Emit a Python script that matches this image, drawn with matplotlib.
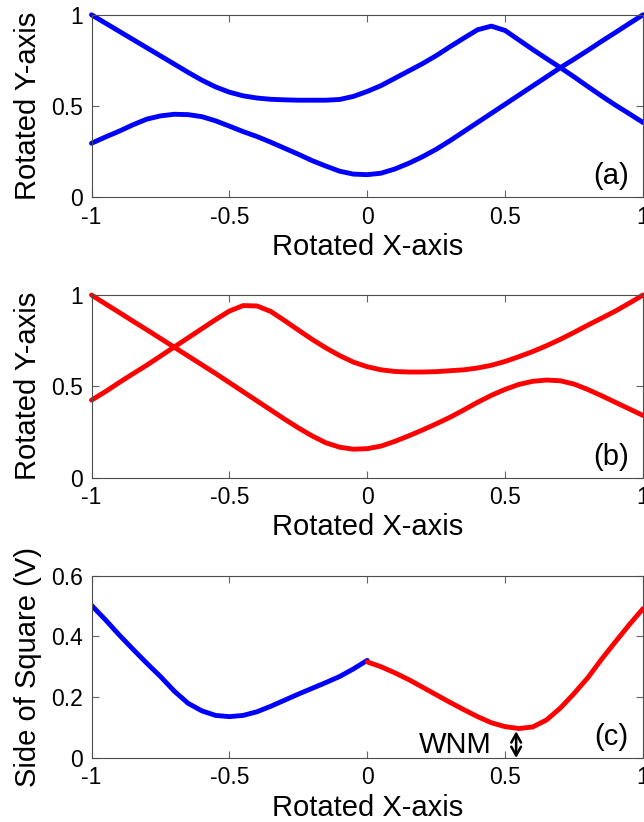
import matplotlib
matplotlib.use("Agg")
import matplotlib.pyplot as plt


# ----------------------------------------
# DATA
# ----------------------------------------

x_ab = [
    -1.0, -0.95, -0.9, -0.85, -0.8, -0.75, -0.7, -0.65, -0.6, -0.55, -0.5,
    -0.45, -0.4, -0.35, -0.3, -0.25, -0.2, -0.15, -0.1, -0.05, 0.0,
    0.05, 0.1, 0.15, 0.2, 0.25, 0.3, 0.35, 0.4, 0.45, 0.5,
    0.55, 0.6, 0.65, 0.7, 0.75, 0.8, 0.85, 0.9, 0.95, 1.0,
]

# panel (a), blue
a_upper = [
    1.0, 0.955, 0.91, 0.865, 0.82, 0.775, 0.73, 0.685, 0.642, 0.605, 0.576,
    0.556, 0.544, 0.537, 0.534, 0.532, 0.532, 0.532, 0.536, 0.553, 0.58,
    0.612, 0.652, 0.692, 0.732, 0.776, 0.825, 0.872, 0.918, 0.938, 0.914,
    0.862, 0.81, 0.76, 0.711, 0.66, 0.607, 0.555, 0.505, 0.458, 0.41,
]
a_lower = [
    0.296, 0.33, 0.362, 0.397, 0.428, 0.446, 0.455, 0.453, 0.442, 0.419, 0.39,
    0.36, 0.333, 0.302, 0.269, 0.236, 0.201, 0.171, 0.143, 0.127, 0.124,
    0.132, 0.155, 0.186, 0.222, 0.263, 0.31, 0.36, 0.41, 0.46, 0.51,
    0.56, 0.61, 0.66, 0.71, 0.757, 0.805, 0.855, 0.903, 0.952, 1.0,
]

# panel (b), red
b_first = [
    1.0, 0.952, 0.905, 0.857, 0.81, 0.762, 0.714, 0.666, 0.618, 0.57, 0.52,
    0.47, 0.42, 0.37, 0.32, 0.272, 0.228, 0.19, 0.166, 0.155, 0.158,
    0.172, 0.198, 0.228, 0.26, 0.294, 0.33, 0.37, 0.412, 0.45, 0.483,
    0.51, 0.527, 0.534, 0.53, 0.512, 0.482, 0.448, 0.412, 0.376, 0.34,
]
b_second = [
    0.424, 0.47, 0.52, 0.568, 0.615, 0.665, 0.715, 0.765, 0.815, 0.865, 0.912,
    0.942, 0.94, 0.91, 0.86, 0.808, 0.757, 0.71, 0.668, 0.632, 0.607,
    0.59, 0.581, 0.578, 0.578, 0.58, 0.585, 0.59, 0.6, 0.615, 0.636,
    0.662, 0.69, 0.722, 0.757, 0.795, 0.835, 0.873, 0.912, 0.955, 1.0,
]

# panel (c)
x_left = [
    -1.0, -0.95, -0.9, -0.85, -0.8, -0.75, -0.7, -0.65, -0.6, -0.55, -0.5,
    -0.45, -0.4, -0.35, -0.3, -0.25, -0.2, -0.15, -0.1, -0.05, 0.0,
]
c_left = [
    0.502, 0.455, 0.405, 0.358, 0.312, 0.268, 0.22, 0.18, 0.155, 0.14, 0.136,
    0.14, 0.152, 0.17, 0.19, 0.21, 0.229, 0.248, 0.268, 0.293, 0.321,
]
x_right = [
    0.0, 0.05, 0.1, 0.15, 0.2, 0.25, 0.3, 0.35, 0.4, 0.45, 0.5,
    0.55, 0.6, 0.65, 0.7, 0.75, 0.8, 0.85, 0.9, 0.95, 1.0,
]
c_right = [
    0.316, 0.3, 0.28, 0.258, 0.233, 0.208, 0.183, 0.159, 0.136, 0.116, 0.103,
    0.097, 0.102, 0.125, 0.164, 0.212, 0.264, 0.325, 0.382, 0.438, 0.491,
]

x_ticks = [-1, -0.5, 0, 0.5, 1]
x_tick_labels = ["-1", "-0.5", "0", "0.5", "1"]
ab_ticks = [0, 0.5, 1]
ab_tick_labels = ["0", "0.5", "1"]
c_ticks = [0, 0.2, 0.4, 0.6]
c_tick_labels = ["0", "0.2", "0.4", "0.6"]

wnm_x = 0.54
wnm_y = 0.088


# ----------------------------------------
# STYLE
# ----------------------------------------

plt.rcParams["font.family"] = ["Liberation Sans", "DejaVu Sans"]

LABEL_SIZE = 21
TICK_SIZE = 16.5
LINE_W = 3.5
BLUE = "#0000ff"
RED = "#ff0000"


def style_axes(ax, yticks, ylabels, ylim, ylabel):

    ax.set_xlim(-1, 1)
    ax.set_ylim(*ylim)

    ax.set_xticks(x_ticks)
    ax.set_xticklabels(x_tick_labels)
    ax.set_yticks(yticks)
    ax.set_yticklabels(ylabels)

    ax.tick_params(
        direction="in",
        top=True,
        right=True,
        length=5,
        width=0.8,
        color="0.4",
        labelsize=TICK_SIZE,
        pad=6
    )

    for side in ax.spines.values():
        side.set_color("0.3")
        side.set_linewidth(0.8)

    ax.set_xlabel("Rotated X-axis", fontsize=LABEL_SIZE, labelpad=3)
    ax.set_ylabel(ylabel, fontsize=LABEL_SIZE, labelpad=7)


def draw(ax, x, y, color, clip=True):

    ax.plot(
        x,
        y,
        color=color,
        linewidth=LINE_W,
        solid_joinstyle="round",
        solid_capstyle="round",
        clip_on=clip
    )


# ----------------------------------------
# FIGURE
# ----------------------------------------

fig = plt.figure(figsize=(6.44, 8.22), dpi=100)

left = 91.5 / 644
width = 551.5 / 644
height = 182.5 / 822

ax_a = fig.add_axes([left, 1 - 197.3 / 822, width, height])
ax_b = fig.add_axes([left, 1 - 477.5 / 822, width, height])
ax_c = fig.add_axes([left, 1 - 758 / 822, width, height])

# (a)
draw(ax_a, x_ab, a_upper, BLUE, clip=False)
draw(ax_a, x_ab, a_lower, BLUE, clip=False)
style_axes(ax_a, ab_ticks, ab_tick_labels, (0, 1), "Rotated Y-axis")
ax_a.text(0.942, 0.115, "(a)", transform=ax_a.transAxes,
          fontsize=LABEL_SIZE, ha="center", va="center")

# (b)
draw(ax_b, x_ab, b_first, RED, clip=False)
draw(ax_b, x_ab, b_second, RED, clip=False)
style_axes(ax_b, ab_ticks, ab_tick_labels, (0, 1), "Rotated Y-axis")
ax_b.text(0.942, 0.115, "(b)", transform=ax_b.transAxes,
          fontsize=LABEL_SIZE, ha="center", va="center")

# (c)
draw(ax_c, x_left, c_left, BLUE)
draw(ax_c, x_right, c_right, RED)
style_axes(ax_c, c_ticks, c_tick_labels, (0, 0.6), "Side of Square (V)")
ax_c.text(0.942, 0.115, "(c)", transform=ax_c.transAxes,
          fontsize=LABEL_SIZE, ha="center", va="center")

ax_c.annotate(
    "",
    xy=(wnm_x, 0),
    xytext=(wnm_x, wnm_y),
    arrowprops=dict(arrowstyle="<->,head_length=0.45,head_width=0.25",
                    color="black", lw=1.8, mutation_scale=14,
                    shrinkA=0, shrinkB=0)
)
ax_c.text(0.318, 0.043, "WNM", fontsize=LABEL_SIZE,
          ha="center", va="center")

fig.savefig("out.png", dpi=100)
